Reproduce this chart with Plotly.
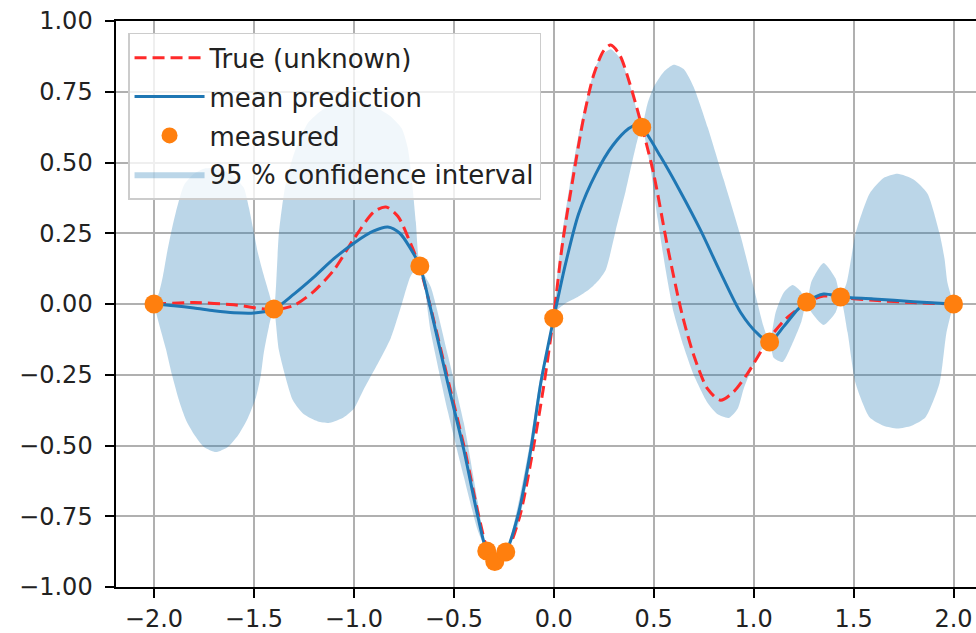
import plotly.graph_objects as go

# ---------------- data ----------------
meas_x = [-2.0, -1.40, -0.67, -0.335, -0.295, -0.24, 0.0, 0.44, 1.08, 1.265, 1.435, 2.0]
meas_y = [0.0, -0.018, 0.134, -0.873, -0.91, -0.876, -0.05, 0.625, -0.134, 0.007, 0.025, 0.0]

mean_x = [-2.0, -1.9, -1.8, -1.7, -1.6, -1.5, -1.4, -1.3, -1.2, -1.1, -1.0, -0.9, -0.83,
          -0.77, -0.72, -0.67, -0.615, -0.53, -0.45, -0.38, -0.335, -0.295, -0.24, -0.18,
          -0.115, -0.065, 0.0, 0.06, 0.125, 0.21, 0.295, 0.375, 0.41, 0.44, 0.535, 0.635,
          0.735, 0.835, 0.935, 1.02, 1.08, 1.15, 1.22, 1.265, 1.35, 1.435, 1.6, 1.8, 2.0]
mean_y = [0.0, -0.006, -0.014, -0.024, -0.031, -0.032, -0.018, 0.035, 0.095, 0.16, 0.215,
          0.258, 0.272, 0.25, 0.2, 0.134, -0.02, -0.28, -0.515, -0.75, -0.873, -0.91, -0.876,
          -0.75, -0.515, -0.28, -0.05, 0.145, 0.32, 0.46, 0.56, 0.62, 0.632, 0.625, 0.52,
          0.395, 0.26, 0.11, -0.03, -0.105, -0.134, -0.08, -0.02, 0.007, 0.035, 0.025, 0.018,
          0.008, 0.0]

true_x = [-2.0, -1.8, -1.6, -1.4, -1.3, -1.2, -1.1, -1.0, -0.9, -0.84, -0.78, -0.72, -0.67,
          -0.61, -0.525, -0.445, -0.375, -0.33, -0.29, -0.235, -0.17, -0.1, -0.048, 0.0,
          0.045, 0.1, 0.15, 0.2, 0.25, 0.285, 0.33, 0.38, 0.44, 0.5, 0.57, 0.64, 0.7, 0.77,
          0.835, 0.9, 0.97, 1.07, 1.15, 1.2, 1.265, 1.35, 1.45, 1.6, 1.8, 2.0]
true_y = [0.0, 0.005, -0.003, -0.02, -0.005, 0.045, 0.12, 0.23, 0.325, 0.343, 0.31, 0.22,
          0.13, -0.03, -0.28, -0.515, -0.75, -0.87, -0.91, -0.876, -0.75, -0.5, -0.28, -0.04,
          0.22, 0.46, 0.66, 0.81, 0.895, 0.915, 0.88, 0.78, 0.63, 0.46, 0.2, -0.03, -0.18,
          -0.30, -0.34, -0.31, -0.245, -0.13, -0.06, -0.03, 0.005, 0.028, 0.022, 0.013,
          0.005, 0.0]

band_upper_x = [-2.0, -1.975, -1.955, -1.935, -1.915, -1.885, -1.85, -1.8, -1.75, -1.7,
                -1.65, -1.6, -1.55, -1.525, -1.505, -1.48, -1.45, -1.425, -1.4,
                -1.375, -1.34, -1.29, -1.23, -1.16, -1.08, -1.0, -0.9, -0.82, -0.76, -0.73,
                -0.71, -0.69, -0.67, -0.615, -0.53, -0.45, -0.38, -0.335, -0.295, -0.24,
                -0.18, -0.115, -0.065, 0.0, 0.02, 0.045, 0.08, 0.125, 0.17, 0.21, 0.25,
                0.285, 0.33, 0.375, 0.425, 0.44, 0.47, 0.5, 0.55, 0.6, 0.65, 0.7, 0.77, 0.85,
                0.935, 1.0, 1.05, 1.08, 1.11, 1.15, 1.195, 1.235, 1.265, 1.29, 1.35, 1.41,
                1.435, 1.465, 1.49, 1.51, 1.58, 1.65, 1.72, 1.8, 1.87, 1.93, 1.955, 1.97, 2.0]
band_upper_y = [0.0, 0.04, 0.10, 0.18, 0.25, 0.34, 0.42, 0.46, 0.478, 0.48,
                0.472, 0.45, 0.41, 0.34, 0.27, 0.18, 0.10, 0.04, -0.018,
                0.25, 0.43, 0.55, 0.64, 0.685, 0.71, 0.72, 0.70, 0.665, 0.62, 0.55,
                0.44, 0.29, 0.134, 0.06, -0.18, -0.42, -0.70, -0.873, -0.91, -0.876,
                -0.715, -0.475, -0.25, -0.05, 0.12, 0.26, 0.42, 0.6, 0.74, 0.84, 0.885,
                0.9, 0.87, 0.79, 0.66, 0.625, 0.71, 0.767, 0.82, 0.845, 0.83, 0.767, 0.625, 0.44,
                0.24, 0.06, -0.08, -0.134, -0.03, 0.04, 0.067, 0.045, 0.007, 0.08, 0.145, 0.09,
                0.025, 0.074, 0.17, 0.25, 0.39, 0.445, 0.46, 0.44, 0.39, 0.25, 0.16, 0.074, 0.0]

band_lower_x = [-2.0, -1.975, -1.94, -1.91, -1.875, -1.84, -1.8, -1.75, -1.69, -1.63, -1.58,
                -1.535, -1.49, -1.465, -1.45, -1.425, -1.4,
                -1.375, -1.305, -1.25, -1.18, -1.12, -1.05, -1.0, -0.95, -0.88, -0.815,
                -0.76, -0.715, -0.67, -0.615, -0.53, -0.45, -0.38, -0.335, -0.295, -0.24,
                -0.18, -0.115, -0.065, 0.0, 0.02, 0.06, 0.12, 0.175, 0.22, 0.26, 0.31, 0.36,
                0.41, 0.44, 0.48, 0.52, 0.56, 0.6, 0.65, 0.7, 0.77, 0.82, 0.875, 0.92, 0.95,
                0.99, 1.03, 1.08, 1.1, 1.145, 1.2, 1.24, 1.265, 1.29, 1.35, 1.41, 1.435,
                1.47, 1.51, 1.58, 1.65, 1.72, 1.79, 1.86, 1.93, 1.965, 2.0]
band_lower_y = [0.0, -0.07, -0.16, -0.25, -0.34, -0.41, -0.46, -0.505, -0.523, -0.505, -0.465,
                -0.41, -0.33, -0.25, -0.17, -0.08, -0.018,
                -0.163, -0.34, -0.39, -0.415, -0.42, -0.40, -0.37, -0.30, -0.21, -0.12,
                0.0, 0.1, 0.134, -0.10, -0.38, -0.61, -0.80, -0.873, -0.91, -0.876,
                -0.785, -0.555, -0.31, -0.05, -0.02, 0.003, 0.025, 0.05, 0.08, 0.12, 0.26, 0.40,
                0.555, 0.625, 0.50, 0.30, 0.12, -0.03, -0.15, -0.25, -0.35, -0.39, -0.403, -0.37,
                -0.30, -0.23, -0.17, -0.134, -0.19, -0.205, -0.13, -0.06, 0.007, -0.03, -0.074,
                -0.03, 0.025, -0.10, -0.28, -0.40, -0.43, -0.44, -0.43, -0.40, -0.28, -0.10, 0.0]

x_ticks = [-2.0, -1.5, -1.0, -0.5, 0.0, 0.5, 1.0, 1.5, 2.0]
x_tick_text = ["\u22122.0", "\u22121.5", "\u22121.0", "\u22120.5", "0.0", "0.5", "1.0", "1.5", "2.0"]
y_ticks = [-1.0, -0.75, -0.5, -0.25, 0.0, 0.25, 0.5, 0.75, 1.0]
y_tick_text = ["\u22121.00", "\u22120.75", "\u22120.50", "\u22120.25", "0.00", "0.25", "0.50", "0.75", "1.00"]

# ---------------- styles ----------------
BLUE = "#1f77b4"
ORANGE = "#ff7f0e"
RED = "#ff2a2a"
FONT = "DejaVu Sans"
FS = 24
LEGEND_FS = 26
PAD = "\u00a0"  # small gap between y tick labels and their ticks

fig = go.Figure()

fig.add_trace(go.Scatter(
    x=band_lower_x, y=band_lower_y, mode="lines",
    line=dict(width=0, shape="spline", smoothing=0.6, color="rgba(31,119,180,0)"),
    showlegend=False, hoverinfo="skip", legendgroup="band"))
fig.add_trace(go.Scatter(
    x=band_upper_x, y=band_upper_y, mode="lines", fill="tonexty",
    fillcolor="rgba(31,119,180,0.3)",
    line=dict(width=0, shape="spline", smoothing=0.6, color="rgba(31,119,180,0)"),
    name="95 % confidence interval", legendgroup="band", legendrank=4))
fig.add_trace(go.Scatter(
    x=true_x, y=true_y, mode="lines", name="True (unknown)",
    line=dict(color=RED, width=3, dash="12px,6px", shape="spline", smoothing=0.8),
    legendgroup="true", legendrank=1))
fig.add_trace(go.Scatter(
    x=mean_x, y=mean_y, mode="lines", name="mean prediction",
    line=dict(color=BLUE, width=3, shape="spline", smoothing=0.8),
    legendgroup="mean", legendrank=2))
fig.add_trace(go.Scatter(
    x=meas_x, y=meas_y, mode="markers", name="measured",
    marker=dict(color=ORANGE, size=19, line=dict(width=0)),
    legendgroup="meas", legendrank=3))

axis_common = dict(
    showgrid=True, gridcolor="#b0b0b0", gridwidth=1.5,
    showline=True, linecolor="#000000", linewidth=1.8,
    ticks="outside", ticklen=9, tickwidth=1.5, tickcolor="#000000",
    tickfont=dict(family=FONT, size=FS, color="#222222"),
    zeroline=False, tickmode="array",
)

fig.update_layout(
    width=976, height=633,
    margin=dict(l=116, r=0, t=21, b=46, pad=0),
    paper_bgcolor="white", plot_bgcolor="white",
    font=dict(family=FONT, size=FS, color="#222222"),
    xaxis=dict(range=[-2.19, 2.1125], tickvals=x_ticks, ticktext=x_tick_text,
               mirror=True, **axis_common),
    yaxis=dict(range=[-1.0, 1.0], tickvals=y_ticks,
               ticktext=[t + PAD for t in y_tick_text],
               mirror=False, **axis_common),
    legend=dict(x=0.014, y=0.979, xanchor="left", yanchor="top",
                bgcolor="rgba(255,255,255,0.8)", bordercolor="#cccccc", borderwidth=1.5,
                font=dict(family=FONT, size=LEGEND_FS, color="#222222"),
                traceorder="grouped", tracegroupgap=2, itemwidth=70),
    showlegend=True,
)

fig.write_html("out.html")
